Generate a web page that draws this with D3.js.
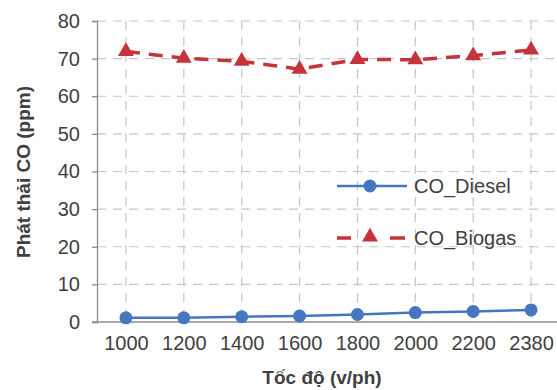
<!DOCTYPE html>
<html>
<head>
<meta charset="utf-8">
<script src="https://cdn.jsdelivr.net/npm/d3@7"></script>
<style>
  html, body { margin: 0; padding: 0; background: #fff; }
  svg { display: block; }
  text { font-family: "Liberation Sans", Arial, sans-serif; fill: #404040; }
</style>
</head>
<body>
<svg id="chart" width="557" height="390"></svg>
<script>
// Engine speed (rpm) categories
const speeds = ["1000", "1200", "1400", "1600", "1800", "2000", "2200", "2380"];
// CO emission (ppm)
const coDiesel = [1.1, 1.1, 1.4, 1.6, 2.0, 2.5, 2.8, 3.2];
const coBiogas = [71.9, 70.1, 69.3, 67.2, 69.8, 69.7, 70.8, 72.3];
const yTicks = [0, 10, 20, 30, 40, 50, 60, 70, 80];

const seriesNames = ["CO_Diesel", "CO_Biogas"];
const blue = "#4577c1";
const red = "#c4343a";

const svg = d3.select("#chart");
const W = 557, H = 390;
const plotLeft = 97, plotTop = 21, plotBottom = 322, plotRight = 560;

const x = d3.scalePoint().domain(speeds).range([plotLeft, plotRight]).padding(0.5);
const y = d3.scaleLinear().domain([0, 80]).range([plotBottom, plotTop]);

// Horizontal gridlines
svg.append("g")
  .selectAll("line")
  .data(yTicks.filter(d => d > 0))
  .join("line")
  .attr("x1", plotLeft).attr("x2", W)
  .attr("y1", d => y(d)).attr("y2", d => y(d))
  .attr("stroke", "#c6c6c6").attr("stroke-width", 1.2)
  .attr("stroke-dasharray", "9,7");

// Vertical gridlines at each speed
svg.append("g")
  .selectAll("line")
  .data(speeds)
  .join("line")
  .attr("x1", d => x(d)).attr("x2", d => x(d))
  .attr("y1", plotTop).attr("y2", plotBottom)
  .attr("stroke", "#c6c6c6").attr("stroke-width", 1.2)
  .attr("stroke-dasharray", "9,7");

// Y axis
const yAxis = svg.append("g")
  .attr("transform", `translate(${plotLeft},0)`)
  .call(d3.axisLeft(y).tickValues(yTicks).tickSize(5).tickPadding(12));
yAxis.select(".domain").attr("stroke", "#8c8c8c").attr("stroke-width", 1.3);
yAxis.selectAll(".tick line").attr("stroke", "#8c8c8c").attr("stroke-width", 1.3);
yAxis.selectAll(".tick text")
  .style("font-family", "'Liberation Sans', Arial, sans-serif")
  .style("font-size", "20px").attr("fill", "#404040");

// X axis
const xAxis = svg.append("g")
  .attr("transform", `translate(0,${plotBottom})`)
  .call(d3.axisBottom(x).tickSize(0).tickPadding(14));
xAxis.select(".domain").attr("stroke", "#8c8c8c").attr("stroke-width", 1.3)
  .attr("d", `M${plotLeft - 5},0H${W}`);
xAxis.selectAll(".tick text")
  .style("font-family", "'Liberation Sans', Arial, sans-serif")
  .style("font-size", "20px").attr("fill", "#404040");

// Axis titles
svg.append("text")
  .attr("transform", `translate(30,172) rotate(-90)`)
  .attr("text-anchor", "middle")
  .style("font-size", "19px").style("font-weight", "bold")
  .text("Phát thải CO (ppm)");
svg.append("text")
  .attr("x", 322).attr("y", 384)
  .attr("text-anchor", "middle")
  .style("font-size", "19px").style("font-weight", "bold")
  .text("Tốc độ (v/ph)");

const line = d3.line().x(d => x(d[0])).y(d => y(d[1]));
const biogasPts = speeds.map((s, i) => [s, coBiogas[i]]);
const dieselPts = speeds.map((s, i) => [s, coDiesel[i]]);

const tri = d3.symbol().type(d3.symbolTriangle).size(110);

// Biogas series
svg.append("path").datum(biogasPts).attr("d", line)
  .attr("fill", "none").attr("stroke", red).attr("stroke-width", 3.5)
  .attr("stroke-dasharray", "14,9");
svg.append("g").selectAll("path").data(biogasPts).join("path")
  .attr("d", tri)
  .attr("transform", d => `translate(${x(d[0])},${y(d[1])})`)
  .attr("fill", red);

// Diesel series
svg.append("path").datum(dieselPts).attr("d", line)
  .attr("fill", "none").attr("stroke", blue).attr("stroke-width", 2.5);
svg.append("g").selectAll("circle").data(dieselPts).join("circle")
  .attr("cx", d => x(d[0])).attr("cy", d => y(d[1])).attr("r", 6.5)
  .attr("fill", blue);

// Legend
const lg = svg.append("g");
lg.append("line").attr("x1", 337).attr("x2", 407).attr("y1", 186).attr("y2", 186)
  .attr("stroke", blue).attr("stroke-width", 2.5);
lg.append("circle").attr("cx", 370).attr("cy", 186).attr("r", 6.5).attr("fill", blue);
lg.append("text").attr("x", 414).attr("y", 193).style("font-size", "20px").text(seriesNames[0]);

lg.append("line").attr("x1", 337).attr("x2", 351).attr("y1", 238).attr("y2", 238)
  .attr("stroke", red).attr("stroke-width", 3.5);
lg.append("path").attr("d", tri).attr("transform", "translate(370,237)").attr("fill", red);
lg.append("line").attr("x1", 390).attr("x2", 405).attr("y1", 238).attr("y2", 238)
  .attr("stroke", red).attr("stroke-width", 3.5);
lg.append("text").attr("x", 414).attr("y", 245).style("font-size", "20px").text(seriesNames[1]);
</script>
</body>
</html>
